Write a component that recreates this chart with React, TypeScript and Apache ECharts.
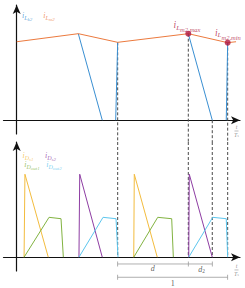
import React, { useEffect, useRef } from "react";
import * as echarts from "echarts";

// Time axis in units of Ts (origin at the vertical axis); current axes in arbitrary units
const X_MIN = -0.12;
const X_MAX = 2.03;
const Y_MIN = -1.2;
const Y_MAX = 10;

// ---- upper panel ----
const iLm2T = [0, 0.56, 0.918, 1.56, 1.918, 1.994];
const iLm2Y = [6.81, 7.51, 6.76, 7.51, 6.73, 6.81];
const iLk2T = [0.56, 0.778, null, 0.9, 0.918, null, 1.56, 1.778, null, 1.905, 1.918];
const iLk2Y = [7.51, 0, null, 0, 6.76, null, 7.51, 0, null, 0, 6.73];
const markT = [1.56, 1.918];
const markY = [7.51, 6.73];

// ---- lower panel ----
const iDs1T = [0.067, 0.075, 0.287, null, 1.064, 1.069, 1.278];
const iDs1Y = [0, 7.2, 0, null, 0, 7.2, 0];
const iDs2T = [0.566, 0.573, 0.778, null, 1.564, 1.569, 1.778];
const iDs2Y = [0, 7.2, 0, null, 0, 7.2, 0];
const iDout1T = [0.067, 0.294, 0.403, 0.424, null, 1.064, 1.282, 1.409, 1.424];
const iDout1Y = [0, 3.46, 3.34, 0, null, 0, 3.46, 3.34, 0];
const iDout2T = [0.566, 0.785, 0.903, 0.921, null, 1.564, 1.782, 1.905, 1.918];
const iDout2Y = [0, 3.46, 3.34, 0, null, 0, 3.46, 3.34, 0];

// ---- dashed guides ----
const guideT = [0.918, 1.56, 1.778, 1.918];
const guideTopY = [6.76, 7.51, 0, 6.73];
const guideGapY = -1.9;

// ---- dimension brackets ----
const dimT = [0.918, 1.56, 1.778];
const dimY = -0.59;
const periodT = [0.918, 1.918];
const periodY = -1.745;
const dimLabelT = [1.236, 1.68, 1.418];
const dimLabelY = [-1.02, -1.05, -2.28];

// ---- label anchors ----
const topLabelT = [0.094, 0.294, 1.548, 1.92];
const topLabelY = [9.09, 9.09, 8.26, 7.61];
const botLabelT = [0.103, 0.307, 0.139, 0.339];
const botLabelY = [8.87, 8.87, 8.05, 8.05];
const fracT = 1.998;
const fracTopY = -0.94;
const fracBotY = -1.11;

const FONT = "'Liberation Serif', 'DejaVu Serif', serif";
const C = {
  orange: "#EC7A3E",
  blue: "#3A8FD2",
  crimson: "#B0173F",
  yellow: "#F3BC3E",
  green: "#82B341",
  purple: "#8E3DA3",
  cyan: "#5CC6EE",
  guide: "#4a4a4a",
  dim: "#9a9a9a",
  axis: "#111111",
};

const zip = (ts: (number | null)[], ys: (number | null)[]) =>
  ts.map((t, i) => (t === null || ys[i] === null ? ["-", "-"] : [t, ys[i]]));

const rich = (color: string, a: number, b: number, c: number) => ({
  i: { fontSize: a, fontStyle: "italic", fontFamily: FONT, color, lineHeight: 14 },
  s: { fontSize: b, fontStyle: "italic", fontFamily: FONT, color, lineHeight: b, padding: [5, 0, 0, 0] },
  ss: { fontSize: c, fontStyle: "italic", fontFamily: FONT, color, lineHeight: c, padding: [9, 0, 0, 0] },
});

const sym = (main: string, s: string, ss: string) => `{i|${main}}{s|${s}}{ss|${ss}}`;

const lineS = (grid: number, data: any[], color: string, extra: any = {}) => ({
  type: "line",
  xAxisIndex: grid,
  yAxisIndex: grid,
  data,
  symbol: "none",
  showSymbol: false,
  connectNulls: false,
  silent: true,
  lineStyle: { color, width: 1 },
  ...extra,
});

export default function App() {
  const ref = useRef<HTMLDivElement>(null);
  useEffect(() => {
    if (!ref.current) return;
    const chart = echarts.init(ref.current, undefined, { renderer: "svg" });

    const guideTop: any[] = [];
    const guideBot: any[] = [];
    guideT.forEach((t, i) => {
      guideTop.push([t, guideTopY[i]], [t, guideGapY], ["-", "-"]);
      guideBot.push([t, Y_MAX], [t, 0], ["-", "-"]);
    });

    const topLabels = [
      { txt: sym("i", "L", "k2"), color: C.blue, sz: [8, 6, 5] },
      { txt: sym("i", "L", "m2"), color: C.orange, sz: [8, 6, 5] },
      { txt: sym("i", "L", "m2,max"), color: C.crimson, sz: [9.5, 7, 6.5] },
      { txt: sym("i", "L", "m2,min"), color: C.crimson, sz: [9.5, 7, 6.5] },
    ].map((l, k) => ({
      value: [topLabelT[k], topLabelY[k]],
      label: { show: true, position: "inside", formatter: l.txt, rich: rich(l.color, l.sz[0], l.sz[1], l.sz[2]) },
    }));

    const botLabels = [
      { txt: sym("i", "D", "s1"), color: C.yellow },
      { txt: sym("i", "D", "s2"), color: C.purple },
      { txt: sym("i", "D", "out1"), color: C.green },
      { txt: sym("i", "D", "out2"), color: C.cyan },
    ].map((l, k) => ({
      value: [botLabelT[k], botLabelY[k]],
      label: { show: true, position: "inside", formatter: l.txt, rich: rich(l.color, 8, 6, 5) },
    }));

    const fracRich = {
      t: { fontSize: 6, fontStyle: "italic", fontFamily: FONT, color: "#777", lineHeight: 5.5, align: "center" },
      b: { fontSize: 1, color: "#777", width: 4, height: 0.7, lineHeight: 1.6, backgroundColor: "#8a8a8a", align: "center" },
      T: { fontSize: 6, fontStyle: "italic", fontFamily: FONT, color: "#777", lineHeight: 5.5 },
      s: { fontSize: 4, fontStyle: "italic", fontFamily: FONT, color: "#777", lineHeight: 4, padding: [2, 0, 0, 0] },
    };
    const fracLabel = (y: number) => ({
      value: [fracT, y],
      label: { show: true, position: "inside", align: "center", formatter: "{t|t}\n{b| }\n{T|T}{s|s}", rich: fracRich },
    });

    const dimRich = {
      d: { fontSize: 8, fontStyle: "italic", fontFamily: FONT, color: "#333", lineHeight: 12 },
      n: { fontSize: 8, fontFamily: FONT, color: "#333", lineHeight: 12 },
      s: { fontSize: 5.5, fontFamily: FONT, color: "#333", lineHeight: 6, padding: [4, 0, 0, 0] },
    };
    const dimTexts = ["{d|d}", "{d|d}{s|2}", "{n|1}"];
    const dimLabels = dimTexts.map((txt, k) => ({
      value: [dimLabelT[k], dimLabelY[k]],
      label: { show: true, position: "inside", formatter: txt, rich: dimRich },
    }));

    const axisLine = {
      show: true,
      onZero: true,
      symbol: ["none", "arrow"],
      symbolSize: [6, 9],
      lineStyle: { color: C.axis, width: 1.2 },
    };
    const xAx = (g: number) => ({
      type: "value",
      gridIndex: g,
      min: X_MIN,
      max: X_MAX,
      axisLine,
      axisTick: { show: false },
      axisLabel: { show: false },
      splitLine: { show: false },
    });
    const yAx = (g: number) => ({
      type: "value",
      gridIndex: g,
      min: Y_MIN,
      max: Y_MAX,
      axisLine,
      axisTick: { show: false },
      axisLabel: { show: false },
      splitLine: { show: false },
    });

    chart.setOption({
      animation: false,
      backgroundColor: "#ffffff",
      grid: [
        { left: 3.5, right: 5, top: 5, height: 129 },
        { left: 3.5, right: 5, top: 142, height: 129 },
      ],
      xAxis: [xAx(0), xAx(1)],
      yAxis: [yAx(0), yAx(1)],
      series: [
        lineS(0, guideTop, C.guide, { clip: false, lineStyle: { color: C.guide, width: 1, type: [3, 2] }, z: 1 }),
        lineS(0, zip(iLk2T, iLk2Y), C.blue, { z: 3 }),
        lineS(0, zip(iLm2T, iLm2Y), C.orange, { z: 4 }),
        {
          type: "scatter",
          xAxisIndex: 0,
          yAxisIndex: 0,
          data: zip(markT, markY),
          symbol: "circle",
          symbolSize: 6,
          itemStyle: { color: C.crimson },
          silent: true,
          z: 5,
        },
        {
          type: "scatter",
          xAxisIndex: 0,
          yAxisIndex: 0,
          data: [...topLabels, fracLabel(fracTopY)],
          symbolSize: 0,
          clip: false,
          silent: true,
          z: 6,
        },
        lineS(1, guideBot, C.guide, { clip: false, lineStyle: { color: C.guide, width: 1, type: [3, 2] }, z: 1 }),
        lineS(1, zip(iDs1T, iDs1Y), C.yellow, { z: 3 }),
        lineS(1, zip(iDout1T, iDout1Y), C.green, { z: 3 }),
        lineS(1, zip(iDs2T, iDs2Y), C.purple, { z: 3 }),
        lineS(1, zip(iDout2T, iDout2Y), C.cyan, { z: 3 }),
        lineS(1, dimT.map((t) => [t, dimY]), C.dim, {
          clip: false,
          symbol: "rect",
          symbolSize: [0.8, 5],
          showSymbol: true,
          showAllSymbol: true,
          itemStyle: { color: C.dim },
          lineStyle: { color: C.dim, width: 0.8 },
        }),
        lineS(1, periodT.map((t) => [t, periodY]), C.dim, {
          clip: false,
          symbol: "rect",
          symbolSize: [0.8, 5],
          showSymbol: true,
          showAllSymbol: true,
          itemStyle: { color: C.dim },
          lineStyle: { color: C.dim, width: 0.8 },
        }),
        {
          type: "scatter",
          xAxisIndex: 1,
          yAxisIndex: 1,
          data: [...botLabels, ...dimLabels, fracLabel(fracBotY)],
          symbolSize: 0,
          clip: false,
          silent: true,
          z: 6,
        },
      ],
    });
    return () => chart.dispose();
  }, []);

  return (
    <div
      ref={ref}
      style={{ position: "fixed", left: 0, top: 0, width: 245, height: 288, background: "#fff" }}
    />
  );
}
